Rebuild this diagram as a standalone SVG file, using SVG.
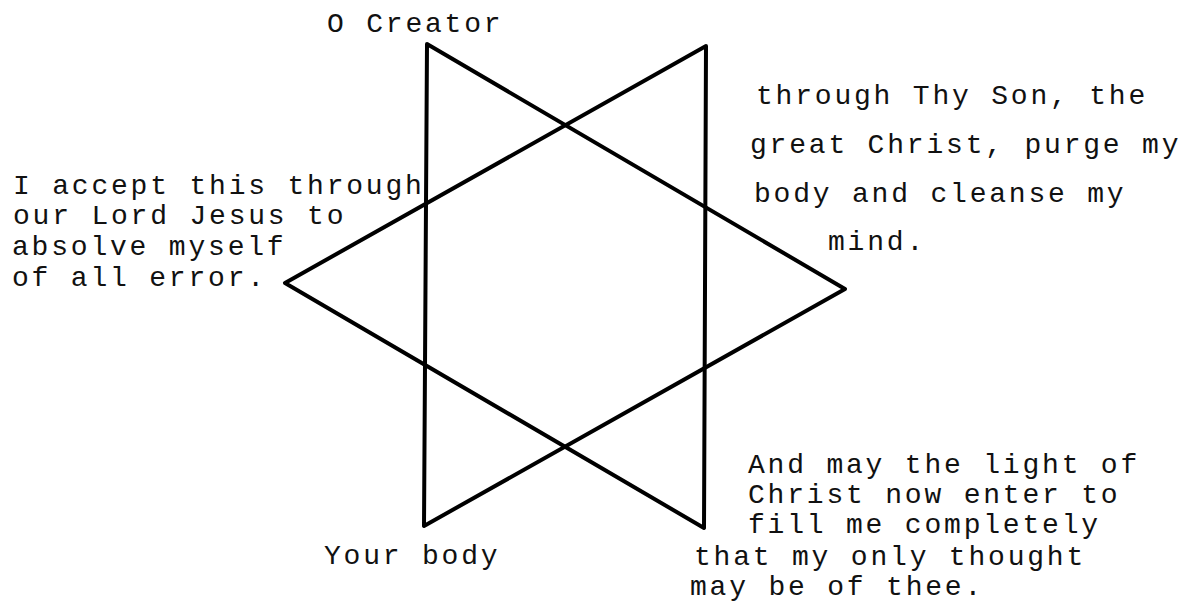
<svg xmlns="http://www.w3.org/2000/svg" width="1187" height="609" viewBox="0 0 1187 609">
<style>
.t{font-family:"Liberation Mono","DejaVu Sans Mono",monospace;font-size:28px;letter-spacing:2.8px;fill:#111}
.edge{fill:none;stroke:#000;stroke-width:4;stroke-linejoin:round;stroke-linecap:round}
</style>
<rect width="1187" height="609" fill="#fff"/>
<g id="connectors">
<polygon class="edge" points="427,44 845,289 424,526"/>
<polygon class="edge" points="706,46 285,283 704,528"/>
</g>
<g id="top-label"><text class="t" x="327" y="32">O Creator</text></g>
<g id="left-label">
<text class="t" x="13" y="194">I accept this through</text>
<text class="t" x="13" y="224">our Lord Jesus to</text>
<text class="t" x="12" y="255">absolve myself</text>
<text class="t" x="12" y="286">of all error.</text>
</g>
<g id="right-label">
<text class="t" x="756" y="104">through Thy Son, the</text>
<text class="t" x="750" y="153">great Christ, purge my</text>
<text class="t" x="754" y="202">body and cleanse my</text>
<text class="t" x="828" y="250">mind.</text>
</g>
<g id="bottom-left-label"><text class="t" x="324" y="564">Your body</text></g>
<g id="bottom-right-label">
<text class="t" x="748" y="473">And may the light of</text>
<text class="t" x="748" y="503">Christ now enter to</text>
<text class="t" x="748" y="533">fill me completely</text>
<text class="t" x="694" y="565">that my only thought</text>
<text class="t" x="690" y="595">may be of thee.</text>
</g>
</svg>
